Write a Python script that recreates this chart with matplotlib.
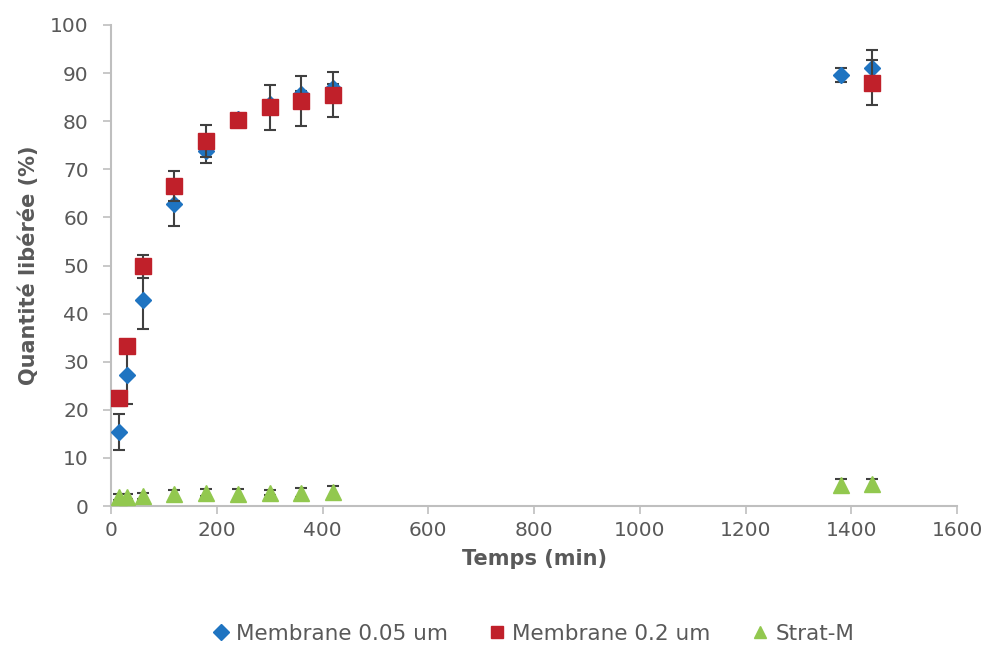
import numpy as np
import matplotlib.pyplot as plt

# temps de prélèvement (min)
temps = [15, 30, 60, 120, 180, 240, 300, 360, 420, 1380, 1440]

# Membrane 0.05 um
m005 = [15.4, 27.2, 42.8, 62.8, 73.9, 80.5, 83.6, 85.7, 87.0, 89.6, 91.0]
m005_err = [3.7, 6.0, 6.0, 4.5, 2.5, 0.6, 0.5, 0.5, 0.8, 1.5, 3.7]

# Membrane 0.2 um
m02 = [22.4, 33.3, 49.8, 66.5, 75.9, 80.2, 82.9, 84.3, 85.5, None, 88.0]
m02_err = [1.6, 0.8, 2.4, 3.1, 3.4, 1.0, 4.7, 5.2, 4.7, None, 4.7]

# Strat-M
stratm = [1.8, 1.9, 2.1, 2.4, 2.8, 2.4, 2.8, 2.8, 2.9, 4.4, 4.6]
stratm_err = [0.6, 0.5, 0.7, 0.9, 0.7, 1.1, 0.6, 1.0, 1.2, 1.3, 1.1]

gris = '#595959'
axe = '#BFBFBF'

fig = plt.figure(figsize=(9.86, 6.45), dpi=100)
ax = fig.add_axes([111 / 986, 1 - 506 / 645, (957 - 111) / 986, (506 - 25) / 645])

err_kw = dict(ecolor='#404040', elinewidth=1.5, capsize=4.5, capthick=1.5, linestyle='none')

# Strat-M
ax.errorbar(temps, stratm, yerr=stratm_err, fmt='^', color='#92C84F', markersize=11,
            label='Strat-M', zorder=3, **err_kw)

# Membrane 0.05 um
ax.errorbar(temps, m005, yerr=m005_err, fmt='D', color='#1F74C1', markersize=8.5,
            label='Membrane 0.05 um', zorder=4, **err_kw)

# Membrane 0.2 um (pas de point à 1380)
t02 = [t for t, v in zip(temps, m02) if v is not None]
v02 = [v for v in m02 if v is not None]
e02 = [e for e in m02_err if e is not None]
ax.errorbar(t02, v02, yerr=e02, fmt='s', color='#C0202A', markersize=11,
            label='Membrane 0.2 um', zorder=5, **err_kw)

ax.set_xlim(0, 1600)
ax.set_ylim(0, 100)
ax.set_xticks(np.arange(0, 1601, 200))
ax.set_yticks(np.arange(0, 101, 10))

for s in ['top', 'right']:
    ax.spines[s].set_visible(False)
for s in ['left', 'bottom']:
    ax.spines[s].set_color(axe)
    ax.spines[s].set_linewidth(1.5)
ax.tick_params(axis='both', colors=axe, labelcolor=gris, labelsize=14.5, length=6, width=1.2)
ax.tick_params(axis='y', pad=10)
ax.tick_params(axis='x', pad=5)

ax.set_xlabel('Temps (min)', fontsize=15, fontweight='bold', color=gris, labelpad=6)
ax.set_ylabel('Quantité libérée (%)', fontsize=15, fontweight='bold', color=gris, labelpad=8)

h, l = ax.get_legend_handles_labels()
order = [1, 2, 0]
leg = fig.legend([h[i][0] for i in order], [l[i] for i in order], loc='center',
                 bbox_to_anchor=(532 / 986, 1 - 634 / 645), ncol=3, frameon=False,
                 fontsize=15.5, handletextpad=0.2, columnspacing=1.8, handlelength=1.0)
for t in leg.get_texts():
    t.set_color(gris)
for lh in leg.legend_handles:
    lh.set_markersize(8)

fig.savefig('out.png', dpi=100)
